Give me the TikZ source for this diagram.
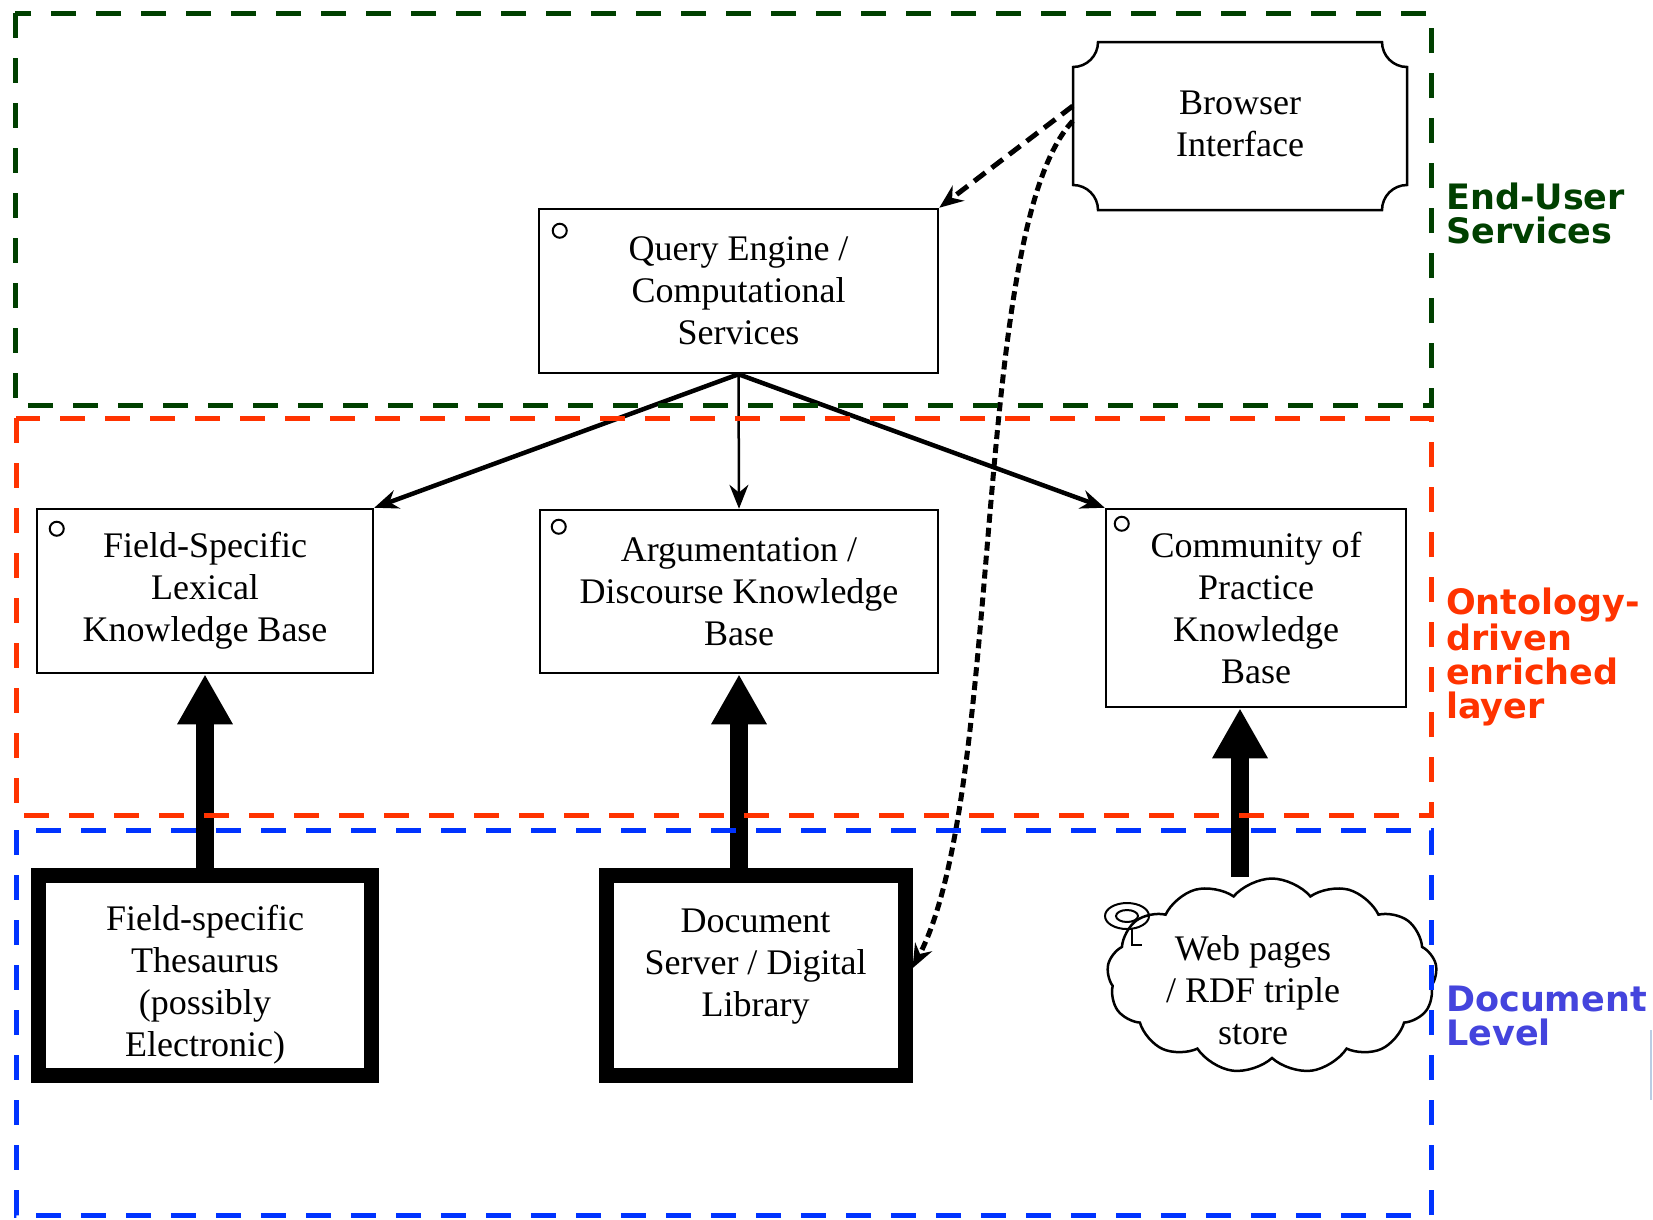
\documentclass[tikz,border=0pt]{standalone}
\usepackage{fontspec}
\setmainfont{Liberation Serif}
\newfontfamily\lblfont{DejaVu Sans Bold}
\usetikzlibrary{arrows.meta,shapes.symbols,calc}
\definecolor{egreen}{RGB}{0,64,0}
\definecolor{ored}{RGB}{255,51,0}
\definecolor{dblue}{RGB}{0,51,255}
\definecolor{dtext}{RGB}{68,68,221}
\definecolor{faint}{RGB}{185,205,228}
\begin{document}
\begin{tikzpicture}[x=1pt,y=-1pt,
  layerline/.style={line width=5pt, dash pattern=on 25pt off 20pt},
  kbox/.style={draw, line width=2.5pt, rectangle, fill=white, inner sep=0pt, align=center, font=\fontsize{36}{42}\selectfont},
  srcbox/.style={draw, line width=15pt, rectangle, fill=white, inner sep=0pt, align=center, font=\fontsize{36}{42}\selectfont},
  lbl/.style={anchor=west, align=left, inner sep=0pt, font=\lblfont\fontsize{35}{34}\selectfont},
  thinarr/.style={line width=4.5pt, -{Stealth[length=24pt,width=19pt]}},
  bigarr/.style={line width=18pt, -{Triangle[length=50pt,width=52pt]}},
  kmark/.style={line width=2pt},
]
\useasboundingbox (0,0) rectangle (1653,1219);

% boxes
\node[kbox, minimum width=399pt, minimum height=164pt] (qe) at (738.5,291) {Query Engine /\\Computational\\Services};
\node[kbox, minimum width=336pt, minimum height=164pt] (fl) at (205,591) {Field-Specific\\Lexical\\Knowledge Base};
\node[kbox, minimum width=398pt, minimum height=163pt] (arg) at (739,591.5) {Argumentation /\\Discourse Knowledge\\Base};
\node[kbox, minimum width=300pt, minimum height=198pt] (comm) at (1256,608) {Community of\\Practice\\Knowledge\\Base};
\node[srcbox, minimum width=333.5pt, minimum height=200pt] (ths) at (205,975) {\rule{0pt}{45pt}Field-specific\\Thesaurus\\(possibly\\Electronic)};
\node[srcbox, minimum width=299pt, minimum height=199.5pt] (ds) at (755.5,975.25) {Document\\Server / Digital\\Library\rule[-26pt]{0pt}{1pt}};

% browser plaque
\draw[line width=2.5pt, fill=white] (1098,42) -- (1382,42) arc[start angle=180, end angle=90, radius=25]
  -- (1407,185) arc[start angle=270, end angle=180, radius=25]
  -- (1098,210) arc[start angle=0, end angle=-90, radius=25]
  -- (1073,67) arc[start angle=90, end angle=0, radius=25] -- cycle;
\node[inner sep=0pt, minimum width=334pt, minimum height=168pt, align=center, font=\fontsize{36}{42}\selectfont] (br) at (1240,124) {Browser\\Interface};

% cloud
\node[cloud, draw, line width=2.5pt, fill=white, cloud puffs=13, cloud puff arc=100, aspect=1.7, minimum width=330pt, minimum height=195pt, inner sep=0pt] (cl) at (1272,976) {};
\node[align=center, inner sep=0pt, font=\fontsize{36}{42}\selectfont] (webtxt) at (1253,990) {Web pages\\/ RDF triple\\store};
\draw[kmark] (1127,916) ellipse[x radius=22, y radius=13];
\draw[kmark] (1127,916) ellipse[x radius=11, y radius=6];
\draw[kmark] (1132,929) -- (1132,945) -- (1142,945);

% small marks in KB boxes
\draw[kmark] ([xshift=22pt,yshift=-23pt]qe.north west) circle[radius=7];
\draw[kmark] ([xshift=21pt,yshift=-21pt]fl.north west) circle[radius=7];
\draw[kmark] ([xshift=20pt,yshift=-18pt]arg.north west) circle[radius=7];
\draw[kmark] ([xshift=17pt,yshift=-16pt]comm.north west) circle[radius=7];

% connectors
\draw[thinarr] (qe.south) -- (fl.north east);
\draw[thinarr, line width=2.5pt] (qe.south) -- (arg.north);
\draw[thinarr] (qe.south) -- (comm.north west);
\draw[thinarr, line width=5pt, dash pattern=on 14pt off 8pt] ([yshift=18pt]br.west) -- (qe.north east);
\draw[thinarr, line width=5pt, dash pattern=on 9pt off 5pt] ([yshift=3pt]br.west) .. controls (970,230) and (1005,790) .. ([yshift=7pt]ds.east);

\draw[bigarr] (ths.north) -- (fl.south);
\draw[bigarr] (arg.south |- ds.north) -- (arg.south);
\coordinate (webtop) at (1240,877);
\draw[bigarr] (webtop) -- (comm.south -| webtop);

% layers
\draw[layerline, egreen] (15,13) rectangle (1431,405);
\draw[layerline, ored] (16,418) rectangle (1431,815);
\draw[layerline, dblue] (16,830) rectangle (1431,1215);

\node[lbl, text=egreen] (lu) at (1446,213) {End-User\\Services};
\node[lbl, text=ored] (lo) at (1446,657) {Ontology-\\driven\\enriched\\layer};
\node[lbl, text=dtext] (ld) at (1446,1016) {Document\\Level};

\draw[line width=2pt, faint] (1651,1100) -- (1651,1030);
\end{tikzpicture}
\end{document}
